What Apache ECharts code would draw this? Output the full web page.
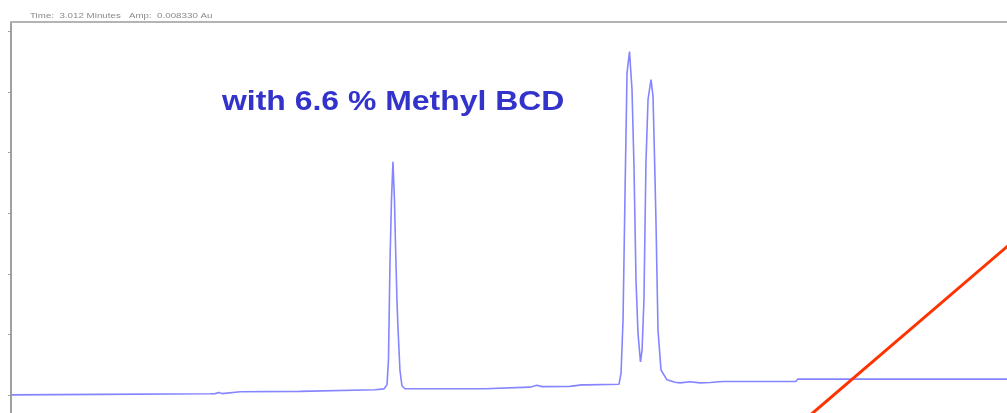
<!DOCTYPE html>
<html>
<head>
<meta charset="utf-8">
<style>
  html, body { margin: 0; padding: 0; background: #ffffff; }
  #chart { width: 1007px; height: 413px; }
</style>
<script src="https://cdn.jsdelivr.net/npm/echarts@6/dist/echarts.min.js"></script>
</head>
<body>
<div id="chart"></div>
<script>
// Detector trace: retention time (min) and absorbance (mAU)
const traceTime = [
  0.00, 0.89, 2.00, 2.05, 2.09, 2.12, 2.30, 2.90, 3.655, 3.745, 3.775, 3.79,
  3.805, 3.82, 3.835, 3.85, 3.86, 3.875, 3.885, 3.905, 3.925, 3.955, 4.76, 4.78,
  5.21, 5.28, 5.33, 5.61, 5.63, 5.73, 5.75, 5.78, 6.104, 6.125, 6.145, 6.165,
  6.185, 6.21, 6.235, 6.255, 6.275, 6.295, 6.32, 6.336, 6.355, 6.375, 6.396, 6.426,
  6.446, 6.46, 6.476, 6.496, 6.526, 6.586, 6.667, 6.717, 6.817, 6.918, 7.02, 7.149,
  7.88, 7.90, 10.00
];
const traceAbs = [
  0.00, 0.08, 0.17, 0.20, 0.40, 0.20, 0.50, 0.58, 0.83, 0.99, 1.65, 5.8,
  21.8, 32.2, 38.5, 32.2, 25.1, 15.7, 11.2, 4.1, 1.5, 1.0, 1.0, 1.24,
  1.27, 1.57, 1.36, 1.40, 1.65, 1.65, 1.98, 1.65, 1.74, 3.6, 12.4, 33.4,
  53.2, 56.7, 50.4, 37.7, 19.0, 10.2, 5.45, 7.4, 15.7, 38.3, 48.8, 52.1,
  49.3, 40.0, 28.4, 10.7, 4.1, 2.48, 2.07, 1.98, 2.15, 1.98, 2.03, 2.2,
  2.2, 2.6, 2.6
];

// Red pointer line drawn over the plot
const pointerTime = [7.90, 10.10];
const pointerAbs = [-5.1, 25.9];

// Y tick positions (mAU)
const yTicks = [0, 10, 20, 30, 40, 50, 60];

const headerText = 'Time:  3.012 Minutes   Amp:  0.008330 Au';
const titleText = 'with 6.6 % Methyl BCD';

const trace = traceTime.map((t, i) => [t, traceAbs[i]]);
const pointer = pointerTime.map((t, i) => [t, pointerAbs[i]]);

const chart = echarts.init(document.getElementById('chart'), null, { renderer: 'canvas' });
chart.setOption({
  animation: false,
  backgroundColor: '#ffffff',
  grid: { left: 11, right: 0, top: 22, bottom: 0, containLabel: false },
  xAxis: {
    type: 'value', min: 0, max: 10, position: 'top',
    axisLine: { show: true, onZero: false, lineStyle: { color: '#b4b4b4', width: 2 } },
    axisTick: { show: false }, axisLabel: { show: false }, splitLine: { show: false }
  },
  yAxis: {
    type: 'value', min: -3, max: 61.6,
    axisLine: { show: true, onZero: false, lineStyle: { color: '#a0a0a0', width: 2 } },
    axisTick: { show: true, length: 3, customValues: yTicks, lineStyle: { color: '#a0a0a0', width: 1 } },
    axisLabel: { show: false },
    splitLine: { show: false }
  },
  series: [
    {
      type: 'line', data: trace, symbol: 'none',
      lineStyle: { color: '#8585ff', width: 1.6 }, z: 2
    },
    {
      type: 'line', data: pointer, symbol: 'none', clip: true,
      lineStyle: { color: '#ff3300', width: 3 }, z: 3
    }
  ],
  graphic: [
    {
      type: 'text', x: 30, y: 15.5, scaleX: 1.22,
      style: {
        text: headerText, font: '8px "Liberation Sans", Arial, sans-serif',
        fill: '#8a8a8a', verticalAlign: 'middle', align: 'left'
      }
    },
    {
      type: 'text', x: 222, y: 102, scaleX: 1.14,
      style: {
        text: titleText, font: 'bold 28px "Liberation Sans", Arial, sans-serif',
        fill: '#3333cc', verticalAlign: 'middle', align: 'left'
      }
    }
  ]
});
</script>
</body>
</html>
